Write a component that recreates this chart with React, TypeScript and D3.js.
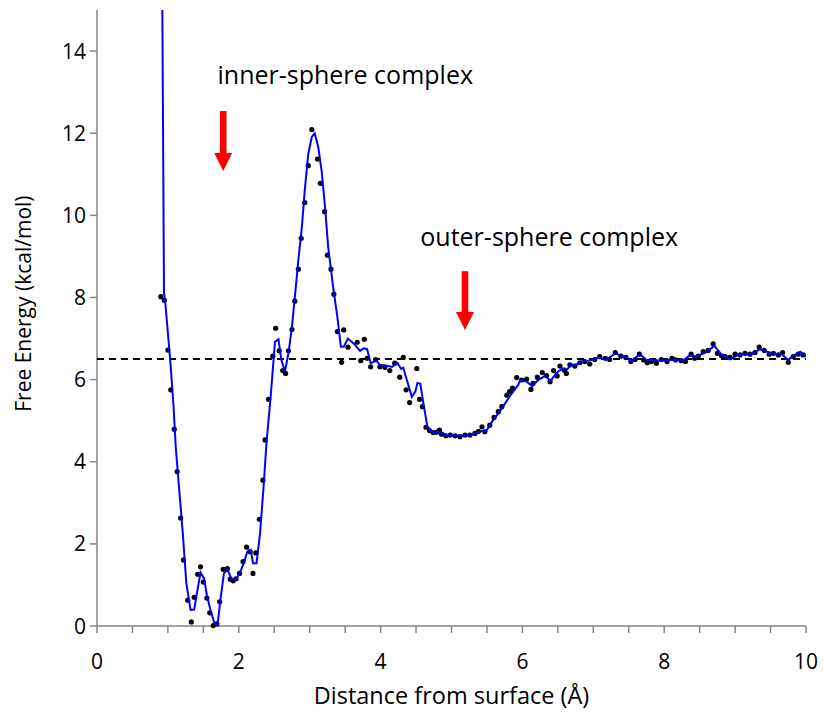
import React from 'react';
import * as d3 from 'd3';

// sampled free energy (dots)
const dotX = [
  0.9, 0.95, 1.0, 1.04, 1.09, 1.13, 1.18, 1.22, 1.28, 1.33, 1.37, 1.42, 1.46, 1.5, 1.55, 1.59, 1.64, 1.69,
  1.73, 1.78, 1.84, 1.88, 1.92, 1.96, 2.01, 2.06, 2.11, 2.16, 2.2, 2.24, 2.29, 2.34, 2.37, 2.42, 2.48,
  2.52, 2.57, 2.62, 2.66, 2.7, 2.75, 2.79, 2.84, 2.88, 2.93, 2.98, 3.03, 3.11, 3.15, 3.21, 3.25, 3.3,
  3.34, 3.39, 3.45, 3.48, 3.54, 3.67, 3.72, 3.77, 3.81, 3.86, 3.93, 3.99, 4.06, 4.13, 4.2, 4.27, 4.32,
  4.36, 4.41, 4.51, 4.55, 4.59, 4.64, 4.69, 4.74, 4.79, 4.83, 4.86, 4.92, 4.98, 5.05, 5.12, 5.19, 5.26,
  5.33, 5.38, 5.43, 5.47, 5.54, 5.6, 5.66, 5.71, 5.78, 5.82, 5.86, 5.92, 5.99, 6.06, 6.12, 6.15, 6.21,
  6.28, 6.34, 6.39, 6.44, 6.49, 6.53, 6.59, 6.62, 6.67, 6.74, 6.81, 6.88, 6.95, 7.02, 7.09, 7.17, 7.23,
  7.31, 7.39, 7.46, 7.53, 7.59, 7.65, 7.71, 7.76, 7.82, 7.89, 7.96, 8.04, 8.11, 8.16, 8.24, 8.3, 8.38,
  8.43, 8.48, 8.55, 8.62, 8.69, 8.75, 8.81, 8.86, 8.93, 9.0, 9.07, 9.14, 9.21, 9.28, 9.34, 9.41, 9.48,
  9.54, 9.61, 9.67, 9.75, 9.82, 9.89, 9.96,
];
const dotY = [
  8.02, 7.93, 6.72, 5.75, 4.79, 3.76, 2.63, 1.61, 0.63, 0.1, 0.7, 1.26, 1.44, 1.07, 0.68, 0.32, 0.01, 0.05,
  0.59, 1.38, 1.4, 1.14, 1.1, 1.15, 1.28, 1.57, 1.92, 1.81, 1.28, 1.78, 2.6, 3.55, 4.53, 5.52, 6.57,
  7.25, 6.7, 6.22, 6.15, 6.7, 7.22, 7.91, 8.69, 9.44, 10.31, 11.21, 12.09, 11.37, 10.78, 10.09, 9.03, 8.69,
  8.08, 7.17, 6.42, 7.21, 6.79, 6.91, 6.46, 6.98, 6.52, 6.31, 6.49, 6.31, 6.3, 6.22, 6.4, 6.06, 6.54,
  5.75, 5.44, 6.27, 5.52, 5.34, 4.84, 4.76, 4.71, 4.72, 4.77, 4.67, 4.63, 4.65, 4.63, 4.61, 4.65, 4.65,
  4.69, 4.74, 4.85, 4.73, 4.89, 5.08, 5.22, 5.34, 5.62, 5.71, 5.79, 6.05, 5.99, 6.01, 5.76, 5.91, 6.06,
  6.17, 6.1, 5.95, 6.22, 6.09, 6.33, 6.23, 6.15, 6.36, 6.33, 6.41, 6.44, 6.38, 6.49, 6.56, 6.52, 6.49,
  6.66, 6.57, 6.54, 6.44, 6.49, 6.62, 6.48, 6.41, 6.44, 6.4, 6.49, 6.44, 6.52, 6.48, 6.46, 6.44, 6.62,
  6.52, 6.57, 6.68, 6.71, 6.87, 6.64, 6.58, 6.56, 6.54, 6.62, 6.6, 6.64, 6.62, 6.66, 6.79, 6.71, 6.62,
  6.64, 6.6, 6.66, 6.42, 6.56, 6.62, 6.6,
];

// fitted curve (blue line)
const lineX = [
  0.92, 0.945, 0.96, 1.0, 1.04, 1.08, 1.11, 1.16, 1.21, 1.26, 1.32, 1.37, 1.42, 1.46, 1.51, 1.55, 1.6,
  1.65, 1.7, 1.74, 1.79, 1.84, 1.89, 1.94, 1.98, 2.03, 2.07, 2.12, 2.17, 2.2, 2.25, 2.3, 2.35, 2.39,
  2.45, 2.51, 2.56, 2.6, 2.65, 2.7, 2.75, 2.79, 2.84, 2.89, 2.93, 2.98, 3.03, 3.07, 3.12, 3.17, 3.22,
  3.26, 3.33, 3.39, 3.44, 3.48, 3.54, 3.62, 3.71, 3.76, 3.81, 3.86, 3.94, 3.99, 4.09, 4.16, 4.24, 4.29,
  4.32, 4.37, 4.44, 4.49, 4.52, 4.56, 4.6, 4.66, 4.74, 4.84, 4.93, 5.07, 5.17, 5.31, 5.43, 5.49, 5.59,
  5.68, 5.82, 5.94, 5.97, 6.06, 6.14, 6.22, 6.32, 6.4, 6.48, 6.57, 6.63, 6.69, 6.76, 6.83, 6.9, 6.98,
  7.07, 7.19, 7.31, 7.43, 7.54, 7.66, 7.75, 7.85, 7.95, 8.05, 8.12, 8.2, 8.28, 8.37, 8.45, 8.6, 8.71,
  8.81, 8.93, 9.06, 9.16, 9.26, 9.35, 9.45, 9.56, 9.66, 9.75, 9.82, 9.92, 10.0,
];
const lineY = [
  15.5, 8.1, 7.94, 7.13, 6.31, 5.34, 4.37, 3.31, 2.26, 1.04, 0.39, 0.4, 0.9, 1.3, 1.16, 0.75, 0.39,
  0.1, 0.02, 0.63, 1.28, 1.38, 1.17, 1.11, 1.19, 1.36, 1.53, 1.81, 1.85, 1.53, 1.53, 2.26, 3.4, 4.45,
  5.59, 6.92, 6.98, 6.48, 6.19, 6.64, 7.29, 8.0, 8.91, 9.72, 10.6, 11.5, 11.91, 12.0, 11.67, 11.06, 10.13,
  9.24, 8.26, 7.53, 6.8, 6.8, 7.0, 6.88, 6.7, 6.76, 6.74, 6.4, 6.46, 6.36, 6.34, 6.31, 6.4, 6.26,
  6.29, 5.99, 5.58, 5.71, 5.92, 5.9, 5.46, 4.85, 4.71, 4.73, 4.65, 4.63, 4.63, 4.67, 4.75, 4.75, 5.02,
  5.22, 5.59, 5.87, 5.99, 5.95, 5.84, 5.99, 6.09, 5.97, 6.17, 6.27, 6.25, 6.36, 6.36, 6.44, 6.45, 6.48,
  6.54, 6.49, 6.64, 6.56, 6.46, 6.62, 6.48, 6.48, 6.46, 6.48, 6.49, 6.48, 6.48, 6.6, 6.56, 6.68, 6.82,
  6.6, 6.49, 6.62, 6.62, 6.64, 6.74, 6.68, 6.62, 6.62, 6.48, 6.58, 6.68, 6.56,
];

const xTicks = [0, 2, 4, 6, 8, 10];
const yTicks = [0, 2, 4, 6, 8, 10, 12, 14];
const refLevel = 6.5;

// annotations: label + arrow (x, top, tip in data units)
const notes = [
  { text: 'inner-sphere complex', x: 1.78, top: 12.54, tip: 11.08, lx: 1.7, ly: 13.2 },
  { text: 'outer-sphere complex', x: 5.19, top: 8.64, tip: 7.21, lx: 4.56, ly: 9.25 },
];

const font = '"Open Sans", sans-serif';
const axisColor = '#868686';

export default function App() {
  const W = 824;
  const H = 712;
  const margin = { left: 97, right: 18, top: 10, bottom: 86 };

  const x = d3.scaleLinear().domain([0, 10]).range([margin.left, W - margin.right]);
  const y = d3.scaleLinear().domain([0, 15]).range([H - margin.bottom, margin.top]);

  const line = d3
    .line<number>()
    .x((d, i) => x(lineX[i]))
    .y((d) => y(d));

  const minorTicks = d3.range(0, 10.001, 0.5);

  return (
    <svg
      width={W}
      height={H}
      style={{ position: 'absolute', left: 0, top: 0, background: '#fff' }}
      fontFamily={font}
    >
      <defs>
        <clipPath id="plot">
          <rect x={x(0)} y={y(15)} width={x(10) - x(0)} height={y(0) - y(15)} />
        </clipPath>
      </defs>

      {/* axes */}
      <line x1={x(0)} x2={x(0)} y1={y(15)} y2={y(0)} stroke={axisColor} strokeWidth={1.5} />
      <line x1={x(0)} x2={x(10)} y1={y(0)} y2={y(0)} stroke={axisColor} strokeWidth={1.5} />
      {yTicks.map((t) => (
        <g key={'y' + t}>
          <line x1={x(0) - 7} x2={x(0)} y1={y(t)} y2={y(t)} stroke={axisColor} strokeWidth={1.5} />
          <text x={x(0) - 11} y={y(t)} dy="0.36em" textAnchor="end" fontSize={21} fill="#000">
            {t}
          </text>
        </g>
      ))}
      {minorTicks.map((t) => (
        <line key={'x' + t} x1={x(t)} x2={x(t)} y1={y(0)} y2={y(0) + 7} stroke={axisColor} strokeWidth={1.5} />
      ))}
      {xTicks.map((t) => (
        <text key={'xl' + t} x={x(t)} y={y(0) + 43} textAnchor="middle" fontSize={21} fill="#000">
          {t}
        </text>
      ))}

      {/* axis titles */}
      <text x={(x(0) + x(10)) / 2} y={H - 8} textAnchor="middle" fontSize={23.5} fill="#000">
        Distance from surface (Å)
      </text>
      <text
        transform={`translate(31, ${y(7.85)}) rotate(-90)`}
        textAnchor="middle"
        fontSize={21}
        fill="#000"
      >
        Free Energy (kcal/mol)
      </text>

      {/* reference level */}
      <line
        x1={x(0)}
        x2={x(10)}
        y1={y(refLevel)}
        y2={y(refLevel)}
        stroke="#000"
        strokeWidth={2}
        strokeDasharray="7,5"
      />

      {/* dots */}
      {dotX.map((d, i) => (
        <circle key={'d' + i} cx={x(d)} cy={y(dotY[i])} r={2.6} fill="#000" />
      ))}

      {/* fitted line */}
      <path d={line(lineY) || ''} fill="none" stroke="#0000ff" strokeWidth={2} clipPath="url(#plot)" />

      {/* annotations */}
      {notes.map((n) => {
        const cx = x(n.x);
        const yt = y(n.top);
        const yp = y(n.tip);
        const headH = 18;
        return (
          <g key={n.text}>
            <text x={x(n.lx)} y={y(n.ly)} fontSize={25} fill="#000">
              {n.text}
            </text>
            <rect x={cx - 3.3} y={yt} width={6.6} height={yp - yt - headH + 1} fill="#ff0000" />
            <path d={`M${cx - 9},${yp - headH} L${cx + 9},${yp - headH} L${cx},${yp} Z`} fill="#ff0000" />
          </g>
        );
      })}
    </svg>
  );
}
